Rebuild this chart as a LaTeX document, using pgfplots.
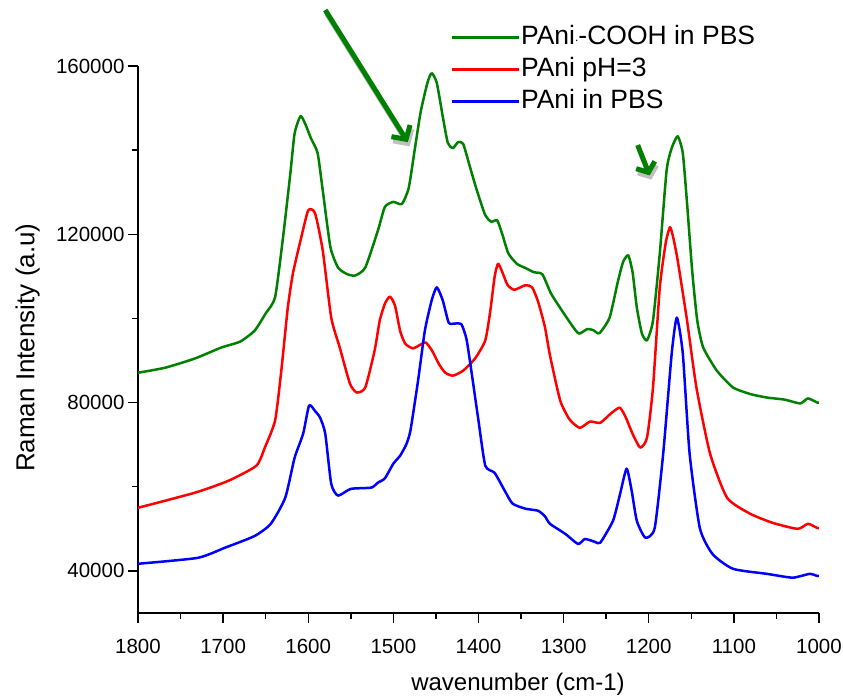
\documentclass[border=0pt]{standalone}
\usepackage{pgfplots}
\pgfplotsset{compat=1.18}
\usepackage{fontspec}
\setmainfont{Liberation Sans}
\usetikzlibrary{arrows.meta}
\definecolor{cgreen}{RGB}{0,128,0}
\definecolor{cred}{RGB}{255,0,0}
\definecolor{cblue}{RGB}{0,0,255}
\begin{document}
\begin{tikzpicture}
\useasboundingbox (-138pt,-84pt) rectangle (705pt,613pt);
\begin{axis}[
  at={(0pt,0pt)}, anchor=south west,
  scale only axis, width=681pt, height=547pt,
  x dir=reverse,
  xmin=1000, xmax=1800, ymin=30000, ymax=160000,
  axis x line*=bottom, axis y line*=left,
  axis line style={line width=1.4pt, black},
  tick align=outside,
  major tick length=10pt, minor tick length=6pt,
  every tick/.style={line width=1.4pt, black},
  xtick={1000,1100,1200,1300,1400,1500,1600,1700,1800},
  xticklabels={1000,1100,1200,1300,1400,1500,1600,1700,1800},
  minor x tick num=1,
  ytick={40000,80000,120000,160000},
  yticklabels={40000,80000,120000,160000},
  minor y tick num=1,
  scaled y ticks=false, scaled x ticks=false,
  tick label style={font=\fontsize{20.5}{24}\selectfont},
  xticklabel style={yshift=-13pt},
  xlabel={wavenumber (cm-1)},
  ylabel={Raman Intensity (a.u)},
  every axis x label/.style={at={(axis description cs:0.558,-0.131)}, anchor=center, font=\fontsize{24}{28}\selectfont},
  every axis y label/.style={at={(axis description cs:-0.162,0.485)}, rotate=90, anchor=center, font=\fontsize{26}{30}\selectfont},
  clip=false,
  legend style={at={(axis description cs:0.458,1.077)}, anchor=north west, draw=none, fill=none,
    inner sep=0pt, font=\fontsize{26.5}{31}\selectfont, row sep=6pt,
    nodes={inner sep=1pt, text height=19pt, text depth=5pt},
    /tikz/every even column/.append style={column sep=4pt}},
  legend cell align=left,
  legend image code/.code={\draw[#1, line width=3pt, sharp plot] (0pt,0pt) -- (67pt,0pt);},
  legend image post style={line width=3pt},
  every axis plot/.append style={line width=2.5pt, line join=round, smooth, tension=0.35},
]
\addplot[cgreen] coordinates {
(1800,87100)(1768,88300)(1733,90500)(1702,93100)(1680,94500)(1663,97100)(1650,101200)(1639,105000)
(1630,118600)(1621,134500)(1616,144000)(1609,148100)(1603,146000)(1597,142900)(1589,139300)(1583,130500)
(1574,117000)(1565,112100)(1555,110600)(1545,110200)(1533,112100)(1518,121000)(1510,126500)(1500,127700)
(1490,127200)(1482,131000)(1475,140000)(1468,149000)(1460,156000)(1455,158300)(1449,156000)(1442,148000)
(1436,141700)(1430,140500)(1424,141900)(1418,141500)(1410,136000)(1402,130500)(1392,124500)(1385,123000)
(1378,123300)(1372,120000)(1365,115500)(1355,113000)(1345,112000)(1335,111000)(1325,110500)(1315,106000)
(1304,102500)(1290,98300)(1282,96400)(1272,97500)(1265,97200)(1258,96500)(1246,100200)(1236,109000)
(1230,113500)(1224,115000)(1219,111000)(1214,102600)(1208,96400)(1202,94800)(1195,99500)(1187,115500)
(1179,135200)(1173,140500)(1166,143300)(1160,139300)(1155,127400)(1149,111400)(1143,99500)(1136,93100)
(1120,87600)(1101,83600)(1080,82000)(1061,81200)(1040,80700)(1022,79800)(1013,81000)(1002,80000)(1000,80000)
};
\addlegendentry{PAni{\fontsize{12}{12}\selectfont\raisebox{3pt}{.}}-COOH in PBS}
\addplot[cred] coordinates {
(1800,55000)(1733,58600)(1694,61400)(1661,65000)(1651,69300)(1639,75700)(1632,86900)(1624,102600)
(1618,110700)(1609,118600)(1600,125700)(1592,125000)(1583,116200)(1573,100200)(1563,93100)(1551,84500)
(1543,82400)(1533,83600)(1522,92400)(1516,99500)(1510,103500)(1504,105200)(1498,103000)(1492,97000)
(1486,94000)(1477,92900)(1468,93800)(1462,94300)(1455,92500)(1446,89000)(1439,87100)(1430,86400)
(1418,87600)(1404,90500)(1392,94800)(1386,102000)(1381,110000)(1377,113000)(1372,111000)(1366,108000)
(1358,106800)(1345,107900)(1337,107400)(1330,104000)(1322,98000)(1316,91200)(1304,80500)(1293,76000)
(1281,74000)(1269,75500)(1257,75200)(1244,77500)(1234,78800)(1227,76500)(1219,72600)(1210,69300)
(1202,71700)(1195,83600)(1187,107400)(1180,118000)(1175,121700)(1171,119000)(1166,113800)(1155,99500)
(1144,83600)(1128,67900)(1108,57400)(1081,53600)(1054,51400)(1025,50000)(1013,51200)(1002,50200)(1000,50200)
};
\addlegendentry{PAni pH=3}
\addplot[cblue] coordinates {
(1800,41700)(1730,43100)(1698,45500)(1663,48300)(1644,51200)(1627,57400)(1616,66900)(1606,72600)
(1599,79300)(1592,78000)(1586,76400)(1580,72600)(1573,60700)(1565,57900)(1550,59500)(1526,59800)
(1518,61000)(1510,62000)(1500,65500)(1492,67400)(1485,70000)(1480,73300)(1471,85200)(1463,97100)
(1455,104300)(1449,107400)(1442,104300)(1435,99000)(1428,98800)(1420,98600)(1414,95000)(1408,87000)
(1400,75700)(1392,65000)(1381,63300)(1369,59000)(1360,56000)(1345,54800)(1330,54300)(1322,53000)
(1316,51200)(1298,48800)(1283,46400)(1275,47600)(1263,46900)(1257,46700)(1242,51900)(1234,58000)
(1226,64300)(1220,59000)(1214,51900)(1204,47900)(1193,50200)(1183,67900)(1173,91700)(1167,100200)
(1160,91700)(1152,67900)(1140,50200)(1125,44000)(1101,40500)(1061,39300)(1031,38400)(1011,39300)(1002,38800)(1000,38800)
};
\addlegendentry{PAni in PBS}
\draw[black!25, line width=5pt, -{Straight Barb[length=10pt,width=22pt]}] (axis cs:1578,172300) -- (axis cs:1481,140900);
\draw[cgreen, line width=5pt, -{Straight Barb[length=10pt,width=22pt]}] (axis cs:1580,173300) -- (axis cs:1483,141900);
\draw[black!25, line width=5pt, -{Straight Barb[length=8pt,width=20pt]}] (axis cs:1211,140200) -- (axis cs:1197,133000);
\draw[cgreen, line width=5pt, -{Straight Barb[length=8pt,width=20pt]}] (axis cs:1213,141200) -- (axis cs:1199,134000);
\end{axis}
\end{tikzpicture}
\end{document}
